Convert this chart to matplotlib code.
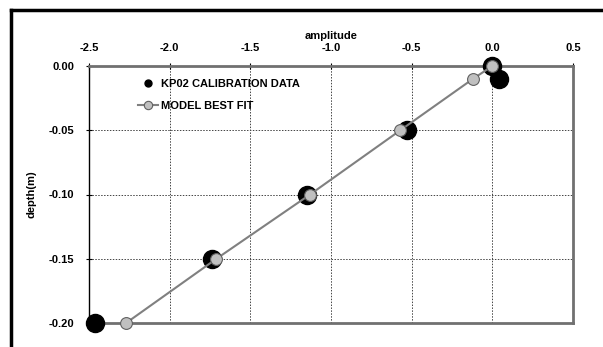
import matplotlib.pyplot as plt
from matplotlib.lines import Line2D

plt.rcParams['font.family'] = ['Liberation Sans', 'DejaVu Sans']
plt.rcParams['font.weight'] = 'bold'

# calibration data (black) and model fit (grey)
data_amp = [0.0, 0.04, -0.53, -1.15, -1.74, -2.46]
data_depth = [0.0, -0.01, -0.05, -0.10, -0.15, -0.20]
fit_amp = [0.0, -0.12, -0.57, -1.13, -1.71, -2.27]
fit_depth = [0.0, -0.01, -0.05, -0.10, -0.15, -0.20]

x_ticks = [-2.5, -2.0, -1.5, -1.0, -0.5, 0.0, 0.5]
y_ticks = [0.0, -0.05, -0.10, -0.15, -0.20]

fig = plt.figure(figsize=(6.03, 3.47), dpi=100)
ax = fig.add_axes([89 / 603, 1 - 323 / 347, 484 / 603, 257 / 347])

ax.plot(data_amp, data_depth, 'o', color='black', markersize=13, zorder=3,
        label='KP02 CALIBRATION DATA', clip_on=False)
ax.plot(fit_amp, fit_depth, '-o', color='#808080', linewidth=1.5,
        markerfacecolor='#c0c0c0', markeredgecolor='#606060', markeredgewidth=0.8,
        markersize=8.5, zorder=4, label='MODEL BEST FIT', clip_on=False)

ax.set_xlim(-2.5, 0.5)
ax.set_ylim(-0.20, 0.0)
ax.set_xticks(x_ticks)
ax.set_yticks(y_ticks)
ax.set_xticklabels([f'{v:.1f}' for v in x_ticks])
ax.set_yticklabels([f'{v:.2f}' for v in y_ticks])
ax.xaxis.tick_top()
ax.xaxis.set_label_position('top')
ax.tick_params(axis='both', direction='inout', length=5, width=0.8, labelsize=8)
ax.tick_params(axis='x', pad=7)
ax.tick_params(axis='y', pad=8)
ax.set_xlabel('amplitude', fontsize=8, fontweight='bold', labelpad=3)
ax.set_ylabel('depth(m)', fontsize=8, fontweight='bold', labelpad=9)

ax.grid(True, linestyle=(0, (1.5, 1.5)), color='#444444', linewidth=0.7)
ax.set_axisbelow(True)

for side in ['top', 'right', 'bottom']:
    ax.spines[side].set_color('#707070')
    ax.spines[side].set_linewidth(2)
ax.spines['left'].set_color('black')
ax.spines['left'].set_linewidth(1)

leg = ax.legend(loc='upper left', bbox_to_anchor=(0.08, 0.99), frameon=False,
                labelspacing=1.1, handlelength=1.8, handletextpad=0.3,
                prop={'weight': 'bold', 'size': 8})
leg.legend_handles[0].set_markersize(5)
leg.legend_handles[1].set_markersize(6)

# outer frame (left and top edges only visible)
fig.add_artist(Line2D([11 / 603, 11 / 603], [0, 1 - 10 / 347], color='black', linewidth=2.5))
fig.add_artist(Line2D([11 / 603, 1], [1 - 10 / 347, 1 - 10 / 347], color='black', linewidth=2.5))

fig.savefig('out.png', dpi=100)
